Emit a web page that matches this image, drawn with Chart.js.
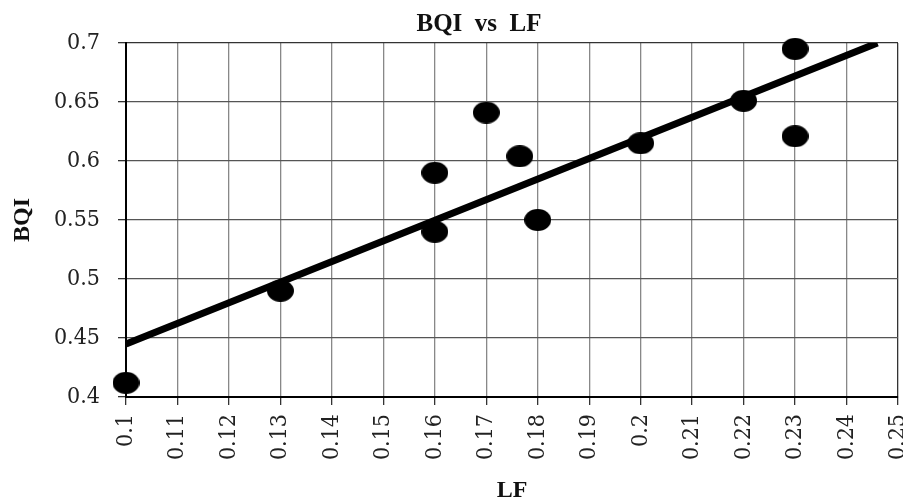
<!DOCTYPE html>
<html>
<head>
<meta charset="utf-8">
<script src="https://cdn.jsdelivr.net/npm/chart.js@4"></script>
<style>
  body { margin: 0; background: #fff; }
  #wrap { width: 903px; height: 503px; }
</style>
</head>
<body>
<div id="wrap"><canvas id="bqiChart" width="903" height="503"></canvas></div>
<script>
// Data
const lfValues  = [0.10, 0.13, 0.16, 0.16, 0.17, 0.1765, 0.18, 0.20, 0.22, 0.23, 0.23];
const bqiValues = [0.412, 0.490, 0.590, 0.540, 0.641, 0.604, 0.550, 0.615, 0.651, 0.695, 0.621];
const trendX = [0.10, 0.246];
const trendY = [0.445, 0.70];
const chartTitle = 'BQI  vs  LF';

const tickFont = { family: '"DejaVu Serif Condensed", "DejaVu Serif"', size: 23 };
const titleFont = { family: 'Liberation Serif', size: 24, weight: 'bold' };

// 0.10 -> 0.1, 0.70 -> 0.7
const trimLabel = v => String(Number(v.toFixed(3)));

// black ellipse used as the marker
function makeEllipse(w, h) {
    const c = document.createElement('canvas');
    c.width = w;
    c.height = h;
    const g = c.getContext('2d');
    g.fillStyle = '#000';
    g.beginPath();
    g.ellipse(w / 2, h / 2, w / 2, h / 2, 0, 0, Math.PI * 2);
    g.fill();
    return c;
}
const dot = makeEllipse(27, 22);

// title is a bit left of the plot centre in the original, so draw it by hand
const titlePlugin = {
    id: 'manualTitle',
    afterDraw(chart) {
        const ctx = chart.ctx;
        ctx.save();
        ctx.font = 'bold 25px "Liberation Serif"';
        ctx.fillStyle = '#111';
        ctx.textAlign = 'center';
        ctx.textBaseline = 'middle';
        ctx.fillText(chartTitle, 479, 25);
        ctx.restore();
    }
};

const ctx = document.getElementById('bqiChart').getContext('2d');
new Chart(ctx, {
    type: 'scatter',
    data: {
        datasets: [
            {
                label: 'BQI',
                data: lfValues.map((x, i) => ({ x: x, y: bqiValues[i] })),
                pointStyle: dot,
                pointRadius: 11,
                backgroundColor: '#000',
                borderColor: '#000',
                clip: false,
                order: 2
            },
            {
                label: 'Trend',
                type: 'line',
                data: trendX.map((x, i) => ({ x: x, y: trendY[i] })),
                borderColor: '#000',
                borderWidth: 7,
                pointRadius: 0,
                fill: false,
                order: 1
            }
        ]
    },
    options: {
        responsive: false,
        animation: false,
        layout: { autoPadding: false, padding: { top: 43, left: 0, right: 5, bottom: 0 } },
        plugins: {
            legend: { display: false },
            tooltip: { enabled: false },
            title: { display: false }
        },
        scales: {
            x: {
                type: 'linear',
                min: 0.1,
                max: 0.25,
                afterFit(scale) {
                    scale.paddingLeft = 0;
                    scale.paddingRight = 0;
                    scale.height = 106;
                },
                ticks: {
                    stepSize: 0.01,
                    minRotation: 90,
                    maxRotation: 90,
                    padding: 9,
                    color: '#222',
                    font: tickFont,
                    callback: trimLabel
                },
                grid: {
                    color: ctx => ctx.index === 15 ? '#333' : '#888',
                    tickColor: '#333',
                    tickLength: 8,
                    lineWidth: 1.3
                },
                border: { color: '#000', width: 2 },
                title: {
                    display: true,
                    text: 'LF',
                    color: '#111',
                    font: { family: 'Liberation Serif', size: 24, weight: 'bold', lineHeight: 1 },
                    padding: { top: 16, bottom: 0 }
                }
            },
            y: {
                min: 0.4,
                max: 0.7,
                afterFit(scale) {
                    scale.width = 126;
                },
                ticks: {
                    stepSize: 0.05,
                    padding: 18,
                    color: '#222',
                    font: tickFont,
                    callback: trimLabel
                },
                grid: {
                    color: ctx => ctx.index === 6 ? '#333' : '#555',
                    tickColor: '#333',
                    tickLength: 8,
                    lineWidth: 1.3
                },
                border: { color: '#000', width: 2 },
                title: {
                    display: true,
                    text: 'BQI',
                    color: '#111',
                    font: titleFont,
                    padding: { top: 8, bottom: 14 }
                }
            }
        }
    },
    plugins: [titlePlugin]
});
</script>
</body>
</html>
